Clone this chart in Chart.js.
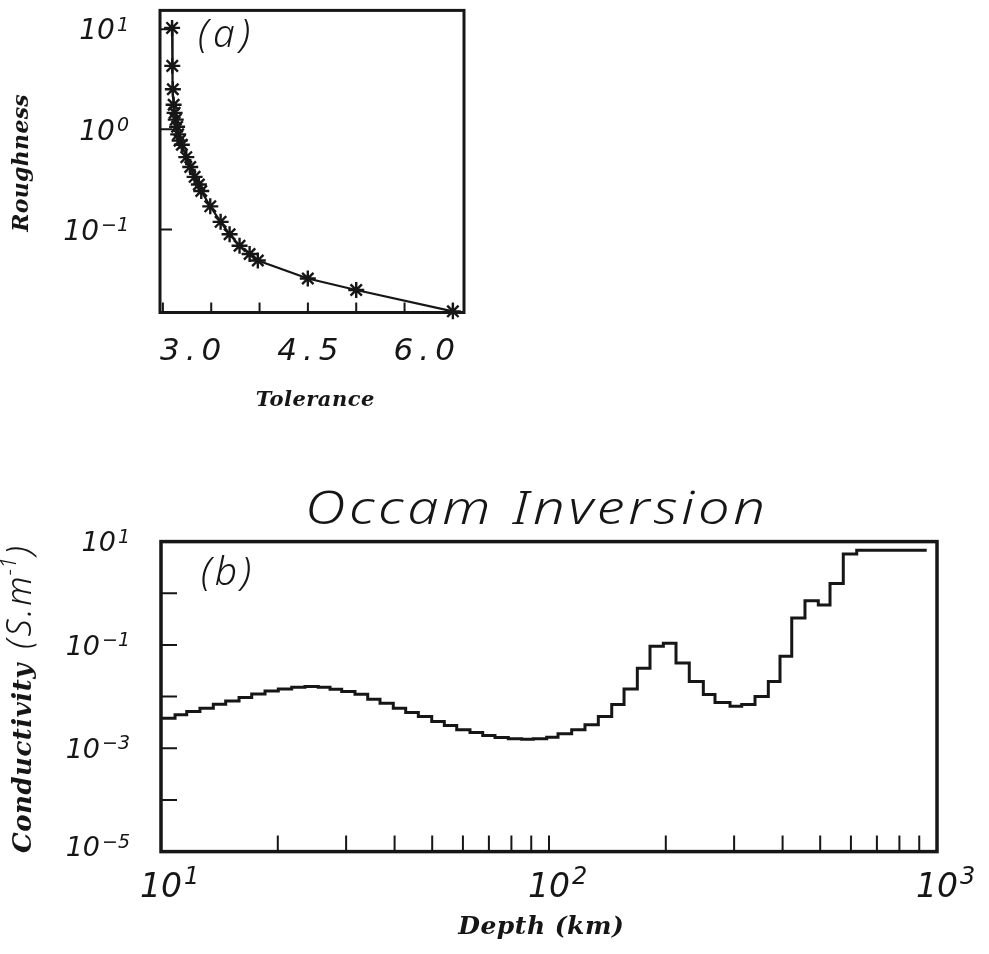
<!DOCTYPE html>
<html>
<head>
<meta charset="utf-8">
<title>Occam Inversion</title>
<script src="https://cdn.jsdelivr.net/npm/chart.js@4.4.1/dist/chart.umd.min.js"></script>
<style>
  html, body { margin: 0; padding: 0; background: #fff; }
  body { width: 989px; height: 954px; position: relative; overflow: hidden; }
  canvas { position: absolute; left: 0; }
  #chartA { top: 0; }
  #chartB { top: 440px; }
</style>
</head>
<body>
<canvas id="chartA" width="480" height="440"></canvas>
<canvas id="chartB" width="989" height="514"></canvas>
<script>
// ---- panel (a): roughness vs tolerance ----
const tolerance = [3.095, 3.097, 3.103, 3.111, 3.121, 3.133, 3.147, 3.158, 3.173, 3.196,
                   3.242, 3.283, 3.328, 3.372, 3.397, 3.490, 3.597, 3.690, 3.793, 3.897,
                   3.982, 4.499, 5.000, 6.000];
const roughness = [10.3, 4.3, 2.51, 1.76, 1.46, 1.25, 1.06, 0.89, 0.77, 0.70,
                   0.527, 0.42, 0.335, 0.281, 0.242, 0.17, 0.119, 0.0895, 0.0687, 0.0569,
                   0.0489, 0.0323, 0.0248, 0.0152];
const tolTicks = [3.0, 3.5, 4.0, 4.5, 5.0, 5.5, 6.0];
const tolLabels = ['3.0', '', '', '4.5', '', '', '6.0'];
const roughTicks = [10, 1, 0.1];
const roughExp = ['1', '0', '\u22121'];

// ---- panel (b): layered conductivity model ----
const layerTop = [10, 10.87, 11.65, 12.60, 13.64, 14.68, 15.89, 17.13, 18.54, 20.06,
                  21.72, 23.50, 25.43, 27.27, 29.22, 31.62, 34.10, 36.68, 39.69, 42.72,
                  46.05, 49.86, 53.73, 57.83, 62.57, 67.48, 72.58, 78.55, 85.05, 91.10,
                  98.64, 105.5, 114.4, 123.8, 134.0, 145.1, 156.1, 168.9, 182.1, 197.1,
                  212.5, 229.9, 249.9, 267.8, 292.8, 313.8, 339.6, 367.5, 393.9, 422.3,
                  456.8, 494.4, 530.0, 573.4, 621.0];
const conductivity = [0.00382, 0.00443, 0.00513, 0.00597, 0.00713, 0.00826, 0.00957, 0.01128, 0.0129, 0.0141,
                      0.0152, 0.0156, 0.0152, 0.0139, 0.0125, 0.0111, 0.00891, 0.00745, 0.00597, 0.00491,
                      0.00410, 0.00328, 0.00275, 0.00227, 0.00201, 0.00176, 0.00161, 0.00152, 0.00150, 0.00152,
                      0.00164, 0.00190, 0.00227, 0.00284, 0.00410, 0.00706, 0.0140, 0.0354, 0.0944, 0.108,
                      0.0449, 0.0197, 0.0110, 0.00773, 0.00652, 0.00700, 0.0100, 0.0195, 0.0604, 0.333,
                      0.716, 0.594, 1.55, 5.75, 6.79];
const depthEnd = 940.8;
const depthTicks = [20, 30, 40, 50, 60, 70, 80, 90, 100, 200, 300, 400, 500, 600, 700, 800, 900];
const depthLabelAt = [10, 100, 1000];
const depthExp = ['1', '2', '3'];
const condTicks = [1, 0.1, 0.01, 0.001, 0.0001];
const condLabelAt = [10, 0.1, 0.001, 0.00001];
const condExp = ['1', '\u22121', '\u22123', '\u22125'];

const INK = '#161616';
const SANS = '"DejaVu Sans"';
const SERIF = '"DejaVu Serif"';

// police fine pour le titre et les repères (a), (b)
function thin(size) {
    return `italic 300 ${size}px "Noto Sans"`;
}

// texte avec espacement, aligné à la main
function spacedText(ctx, s, x, y, font, spacing, align) {
    ctx.font = font;
    ctx.letterSpacing = '0px';
    const w = ctx.measureText(s).width + spacing * (s.length - 1);
    const left = align === 'center' ? x - w / 2 : align === 'right' ? x - w : x;
    ctx.textAlign = 'left';
    ctx.letterSpacing = spacing + 'px';
    ctx.fillText(s, left, y);
    ctx.letterSpacing = '0px';
    return w;
}

// même chose, l'espacement étant choisi pour tenir dans une largeur donnée
function fitText(ctx, s, x, y, font, width, align) {
    ctx.font = font;
    ctx.letterSpacing = '0px';
    const w0 = ctx.measureText(s).width;
    return spacedText(ctx, s, x, y, font, (width - w0) / Math.max(1, s.length - 1), align);
}

// texte centré, étiré horizontalement jusqu'à la largeur voulue
function stretchText(ctx, s, cx, y, font, width, spacing) {
    ctx.font = font;
    ctx.letterSpacing = '0px';
    const w = ctx.measureText(s).width + spacing * (s.length - 1);
    const k = width / w;
    ctx.save();
    ctx.translate(cx, y);
    ctx.scale(k, 1);
    spacedText(ctx, s, 0, 0, font, spacing, 'center');
    ctx.restore();
}

// étiquette 10^n ; mode 'right' : centre vertical sur y, fin à x ; mode 'top' : base centrée sur x, haut à y
function powerLabel(ctx, exp, x, y, st, mode) {
    const fb = `italic ${st.baseSize}px ${SANS}`;
    const fe = `italic ${st.expSize}px ${SANS}`;
    ctx.font = fb;
    const wb = ctx.measureText('10').width;
    ctx.font = fe;
    const we = ctx.measureText(exp).width;
    const capB = 0.729 * st.baseSize, capE = 0.729 * st.expSize;
    const left = mode === 'right' ? x - wb - st.gap - we : x - wb / 2;
    const baseY = mode === 'right' ? y + capB / 2 : y + capB;
    ctx.textAlign = 'left';
    ctx.textBaseline = 'alphabetic';
    ctx.font = fb;
    ctx.fillText('10', left, baseY);
    ctx.font = fe;
    ctx.fillText(exp, left + wb + st.gap, baseY - capB - st.raise + capE);
}

function vertical(ctx, x, y, fn) {
    ctx.save();
    ctx.translate(x, y);
    ctx.rotate(-Math.PI / 2);
    fn();
    ctx.restore();
}

const frameA = {
    id: 'frameA',
    beforeDatasetsDraw(chart) {
        const { ctx, chartArea: a, scales: { x, y } } = chart;
        ctx.save();
        ctx.strokeStyle = INK;
        ctx.fillStyle = INK;
        ctx.lineWidth = 3;
        ctx.strokeRect(a.left, a.top, a.right - a.left, a.bottom - a.top);

        ctx.lineWidth = 2;
        ctx.beginPath();
        tolTicks.forEach(t => {
            const px = x.getPixelForValue(t);
            ctx.moveTo(px, a.bottom);
            ctx.lineTo(px, a.bottom - 10);
        });
        roughTicks.forEach(r => {
            const py = y.getPixelForValue(r);
            ctx.moveTo(a.left, py);
            ctx.lineTo(a.left + 12, py);
        });
        ctx.stroke();

        // graduations x
        tolTicks.forEach((t, i) => {
            if (!tolLabels[i]) return;
            const px = x.getPixelForValue(t);
            const align = i === 0 ? 'left' : i === tolTicks.length - 1 ? 'right' : 'center';
            spacedText(ctx, tolLabels[i], i === 0 ? a.left : px + (align === 'right' ? 2 : 0),
                a.bottom + 47, `italic 31px ${SANS}`, 6, align);
        });
        // graduations y
        roughTicks.forEach((r, i) => {
            powerLabel(ctx, roughExp[i], a.left - 31, y.getPixelForValue(r),
                { baseSize: 28, expSize: 19, gap: 2, raise: 2 }, 'right');
        });

        // titres
        ctx.textBaseline = 'alphabetic';
        spacedText(ctx, 'Tolerance', 315, 406, `bold italic 21px ${SERIF}`, 0.5, 'center');
        vertical(ctx, 28, 163, () => {
            spacedText(ctx, 'Roughness', 0, 0, `bold italic 22px ${SERIF}`, 0.3, 'center');
        });
        fitText(ctx, '(a)', a.left + 38, 47, thin(39), 52, 'left');
        ctx.restore();
    }
};

const frameB = {
    id: 'frameB',
    beforeDatasetsDraw(chart) {
        const { ctx, chartArea: a, scales: { x, y } } = chart;
        ctx.save();
        ctx.strokeStyle = INK;
        ctx.fillStyle = INK;
        ctx.lineWidth = 3.5;
        ctx.strokeRect(a.left, a.top, a.right - a.left, a.bottom - a.top);

        ctx.lineWidth = 2;
        ctx.beginPath();
        depthTicks.forEach(d => {
            const px = x.getPixelForValue(d);
            ctx.moveTo(px, a.bottom);
            ctx.lineTo(px, a.bottom - 16);
        });
        condTicks.forEach(c => {
            const py = y.getPixelForValue(c);
            ctx.moveTo(a.left, py);
            ctx.lineTo(a.left + 16, py);
        });
        ctx.stroke();

        depthLabelAt.forEach((d, i) => {
            powerLabel(ctx, depthExp[i], x.getPixelForValue(d), a.bottom + 21,
                { baseSize: 33, expSize: 24, gap: 2, raise: 6 }, 'top');
        });
        condLabelAt.forEach((c, i) => {
            powerLabel(ctx, condExp[i], a.left - 31, y.getPixelForValue(c) - (i === 3 ? 5 : 0),
                { baseSize: 27, expSize: 19, gap: 2, raise: 3 }, 'right');
        });

        // titres
        ctx.textBaseline = 'alphabetic';
        stretchText(ctx, 'Occam Inversion', 535, 84, thin(45), 460, 3);
        spacedText(ctx, 'Depth (km)', 541, 494, `bold italic 25px ${SERIF}`, 0.5, 'center');
        fitText(ctx, '(b)', a.left + 40, 145, thin(39), 50, 'left');
        vertical(ctx, 31, 413, () => {
            let u = spacedText(ctx, 'Conductivity', 0, 0, `bold italic 26px ${SERIF}`, 0.5, 'left');
            u += 15;
            u += spacedText(ctx, '(S.m', u, 0, thin(34), 3, 'left');
            ctx.font = thin(21);
            ctx.fillText('\u22121', u + 1, -15);
            u += ctx.measureText('\u22121').width + 3;
            spacedText(ctx, ')', u, 0, thin(34), 0, 'left');
        });
        ctx.restore();
    }
};

new Chart(document.getElementById('chartA'), {
    type: 'scatter',
    data: {
        datasets: [{
            data: tolerance.map((t, i) => ({ x: t, y: roughness[i] })),
            showLine: true,
            borderColor: INK,
            borderWidth: 2.2,
            pointStyle: 'star',
            pointRadius: 8,
            pointBorderWidth: 2.4,
            pointBorderColor: INK,
            pointBackgroundColor: INK,
            clip: false
        }]
    },
    options: {
        responsive: false,
        animation: false,
        devicePixelRatio: 1,
        layout: { padding: { left: 160, top: 6, right: 16, bottom: 127.5 } },
        plugins: { legend: { display: false }, tooltip: { enabled: false } },
        scales: {
            x: { type: 'linear', min: 2.97, max: 6.115, display: false },
            y: { type: 'logarithmic', min: 0.0148, max: 15.4, display: false }
        }
    },
    plugins: [frameA]
});

const depthPoints = layerTop.concat([depthEnd]);
new Chart(document.getElementById('chartB'), {
    type: 'line',
    data: {
        datasets: [{
            data: depthPoints.map((d, i) => ({ x: d, y: conductivity[Math.min(i, conductivity.length - 1)] })),
            stepped: 'before',
            borderColor: INK,
            borderWidth: 3,
            pointRadius: 0,
            fill: false,
            clip: false
        }]
    },
    options: {
        responsive: false,
        animation: false,
        devicePixelRatio: 1,
        layout: { padding: { left: 161, top: 101.6, right: 52, bottom: 102.4 } },
        plugins: { legend: { display: false }, tooltip: { enabled: false } },
        scales: {
            x: { type: 'logarithmic', min: 10, max: 1000, display: false },
            y: { type: 'logarithmic', min: 0.00001, max: 10, display: false }
        }
    },
    plugins: [frameB]
});
</script>
</body>
</html>
